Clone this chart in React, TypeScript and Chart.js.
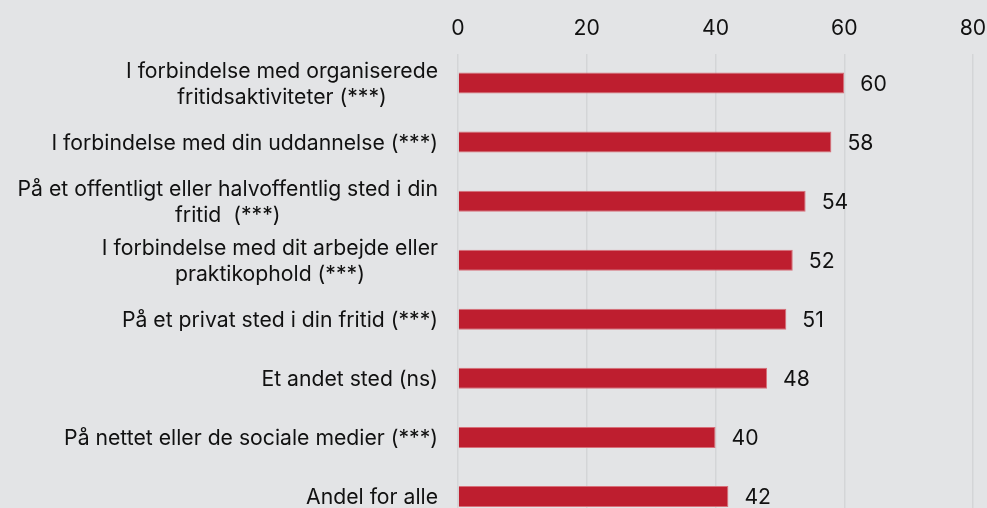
import React, { useEffect, useRef } from "react";
import { Chart, registerables } from "chart.js";

Chart.register(...registerables);

const categories: string[][] = [
  ["I forbindelse med organiserede", "fritidsaktiviteter (***)"],
  ["I forbindelse med din uddannelse (***)"],
  ["På et offentligt eller halvoffentlig sted i din", "fritid  (***)"],
  ["I forbindelse med dit arbejde eller", "praktikophold (***)"],
  ["På et privat sted i din fritid (***)"],
  ["Et andet sted (ns)"],
  ["På nettet eller de sociale medier (***)"],
  ["Andel for alle"],
];
const values = [60, 58, 54, 52, 51, 48, 40, 42];
const xTicks = [0, 20, 40, 60, 80];

const BG = "#e3e4e6";
const FONT = "Inter";
const FS = 21.2;
const LINE = 26;

const textPlugin = {
  id: "textPlugin",
  afterDatasetsDraw(chart: any) {
    const ctx = chart.ctx;
    const meta = chart.getDatasetMeta(0);
    const yScale = chart.scales.y;
    ctx.save();
    ctx.font = `${FS}px ${FONT}`;
    ctx.fillStyle = "#111";
    ctx.textBaseline = "alphabetic";
    // value labels
    ctx.textAlign = "left";
    meta.data.forEach((bar: any, i: number) => {
      ctx.fillText(String(values[i]), bar.x + 16, bar.y + FS * 0.364);
    });
    // category labels: block right-aligned, lines centered within block
    ctx.textAlign = "center";
    const right = chart.chartArea.left - 20;
    categories.forEach((lines, i) => {
      const cy = yScale.getPixelForTick(i);
      const w = Math.max(...lines.map((l) => ctx.measureText(l).width));
      const cx = right - w / 2;
      lines.forEach((l, j) => {
        const ly = cy + (j - (lines.length - 1) / 2) * LINE;
        ctx.fillText(l, cx, ly + FS * 0.364);
      });
    });
    ctx.restore();
  },
};

export default function App() {
  const ref = useRef<HTMLCanvasElement>(null);
  useEffect(() => {
    document.body.style.margin = "0";
    document.body.style.background = BG;
    document.body.style.overflow = "hidden";
    const chart = new Chart(ref.current!, {
      type: "bar",
      data: {
        labels: categories.map((l) => l.join(" ")),
        datasets: [
          {
            data: values,
            backgroundColor: "#be1e2f",
            borderColor: "#d7707a",
            borderWidth: 1,
            categoryPercentage: 0.356,
            barPercentage: 1,
          },
        ],
      },
      options: {
        indexAxis: "y",
        animation: false,
        responsive: true,
        maintainAspectRatio: false,
        layout: { padding: { top: 0, right: 14, left: 0, bottom: 0 } },
        plugins: { legend: { display: false }, tooltip: { enabled: false } },
        scales: {
          x: {
            position: "top",
            min: 0,
            max: 80,
            afterBuildTicks(scale: any) {
              scale.ticks = xTicks.map((v) => ({ value: v }));
            },
            afterFit(scale: any) {
              scale.height = 53.5;
              scale.paddingLeft = 0;
              scale.paddingRight = 0;
            },
            grid: { color: "#d4d5d7", lineWidth: 1.5, drawTicks: false },
            border: { display: false },
            ticks: {
              color: "#111",
              font: { family: FONT, size: FS },
              padding: 12,
            },
          },
          y: {
            afterFit(scale: any) {
              scale.width = 458;
              scale.paddingTop = 0;
              scale.paddingBottom = 0;
            },
            grid: { display: false, drawTicks: false },
            border: { display: false },
            ticks: { display: false, autoSkip: false },
          },
        },
      },
      plugins: [textPlugin],
    });
    return () => chart.destroy();
  }, []);
  return (
    <div style={{ position: "relative", width: 987, height: 526 }}>
      <canvas ref={ref} />
    </div>
  );
}
